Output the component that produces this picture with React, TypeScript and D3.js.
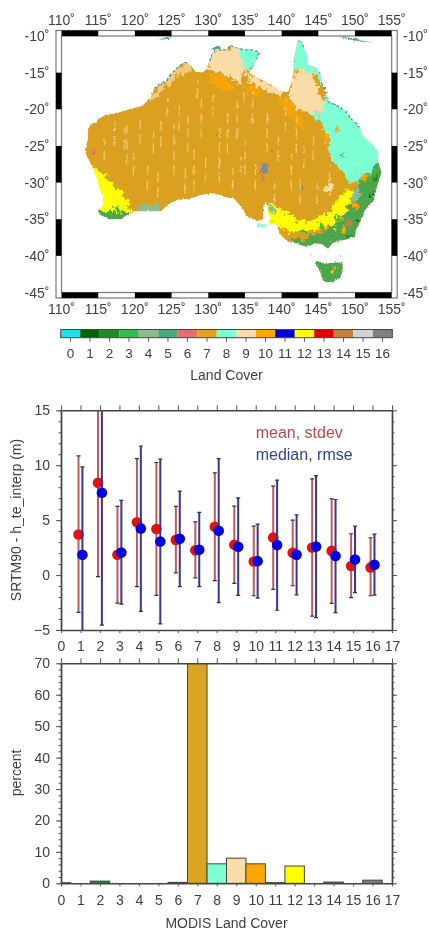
import * as d3 from 'd3';
import { useEffect, useRef } from 'react';

type Pt = [number, number];

const landColors = ['#20e0ee', '#006400', '#228b22', '#3cb84a', '#8fbc8f', '#4aa97c', '#e07070', '#daa520',
  '#7fffd4', '#fadca8', '#ffa500', '#0000cd', '#ffff00', '#e00000', '#c08040', '#d3d3d3', '#808080'];
const landClasses = d3.range(17);

// lon/lat
const mainland: Pt[] = [[113.2,-26.1],[113.3,-25.0],[113.6,-24.0],[113.5,-23.2],[113.8,-22.3],[114.3,-21.8],[114.7,-21.9],[115.0,-21.3],[116.0,-20.7],[117.0,-20.6],[118.5,-20.2],[119.5,-19.9],[120.8,-19.6],[121.6,-19.0],[122.2,-18.2],[122.6,-17.2],[123.4,-16.6],[124.2,-16.2],[124.8,-15.4],[125.5,-14.6],[126.3,-13.9],[127.1,-13.6],[127.8,-14.2],[128.3,-14.9],[129.3,-14.9],[129.7,-14.5],[130.2,-13.4],[130.6,-12.3],[131.3,-11.9],[132.6,-11.9],[132.9,-11.3],[133.8,-11.6],[135,-11.9],[136.0,-11.9],[136.9,-12.2],[136.6,-13.2],[136.0,-14.4],[135.6,-15.0],[136.5,-15.6],[137.6,-16.1],[139.0,-16.9],[139.8,-17.5],[140.8,-17.6],[141.3,-16.5],[141.6,-15.0],[141.6,-13.5],[141.8,-12.6],[142.1,-11.0],[142.5,-10.5],[143.0,-11.5],[143.5,-12.8],[143.6,-14.0],[144.5,-14.2],[145.3,-15.0],[145.4,-16.3],[146.0,-17.5],[146.3,-18.9],[147.5,-19.5],[148.8,-20.3],[149.5,-21.3],[150.6,-22.5],[150.9,-23.5],[152.5,-24.9],[153.2,-25.9],[153.1,-27],[153.6,-28.6],[153.0,-30.5],[152.5,-32.5],[151.3,-33.8],[150.8,-35],[150.1,-36.5],[150.0,-37.4],[148.5,-37.8],[147.0,-38.2],[146.3,-39.0],[145.5,-38.4],[144.6,-38.2],[143.5,-38.8],[142,-38.3],[140.7,-38.0],[139.7,-36.9],[139.3,-35.7],[138.2,-35.6],[138.5,-34.8],[138.1,-33.5],[137.8,-32.6],[137.5,-33.5],[137.5,-35],[136.9,-35.2],[135.7,-34.9],[135.2,-34.5],[134.2,-33],[133.5,-32.2],[132.3,-32.0],[131,-31.5],[129,-31.7],[127.5,-32.2],[126,-32.3],[124.5,-33],[123.6,-33.9],[122,-33.9],[120,-33.9],[119,-34.4],[118,-35],[116.5,-35],[115.1,-34.3],[115,-33.6],[115.7,-33.2],[115.7,-32],[115.2,-31],[114.9,-29.5],[114.2,-28],[113.6,-26.7]];
const tasmania: Pt[] = [[144.7,-40.7],[146,-41.1],[147,-40.9],[148.3,-40.9],[148.3,-42],[148,-43],[147,-43.5],[146,-43.6],[145.5,-43],[145.2,-42],[144.7,-41.2]];
const islands: { c: number; pts: Pt[] }[] = [
  { c: 5, pts: [[130.5,-11.7],[131.5,-11.3],[131.6,-11.7],[130.7,-11.9]] },
  { c: 5, pts: [[123.2,-10.5],[124.5,-10.1],[125.2,-10.0],[124.5,-10.4]] },
  { c: 5, pts: [[147.8,-10.1],[150,-10.3],[150.8,-10.6],[152.6,-10.9],[151,-10.8],[149,-10.4]] },
  { c: 8, pts: [[136.6,-35.7],[138,-35.7],[137.6,-36.1],[136.7,-36]] },
  { c: 15, pts: [[143.8,-39.7],[144.1,-39.7],[144,-40.1]] },
  { c: 8, pts: [[147.8,-39.8],[148.2,-40],[148,-40.4]] },
];
const savannaAqua: Pt[] = [[141.5,-10],[143.5,-10],[144.5,-14],[146.5,-17],[149,-20],[151,-22.5],[154,-25.5],[154,-28],[152,-29.5],[150.5,-30],[149.2,-30],[148,-28],[146.7,-27],[146.3,-24],[145.5,-22],[143.5,-20.3],[145.5,-20.3],[146,-18],[145,-15.5],[142.6,-14.5],[141.5,-15]];
const arnhemAqua: Pt[] = [[133,-11],[137,-11],[137,-14.5],[134.8,-14.5],[134,-13]];
const savannaTan: Pt[][] = [
  [[130.2,-12.2],[134,-11.5],[134.6,-13.2],[135,-15],[134.4,-16.5],[133,-15.6],[131.5,-15],[130,-14.5]],
  [[135,-15],[140,-17.2],[140,-18],[137.5,-17.3],[135.3,-16]],
  [[141,-17.8],[141.5,-16],[142.5,-14.5],[144,-15],[145,-17],[145.5,-18.5],[146,-20],[144,-20.6],[142,-20],[141,-18.6]],
];
const kimberleyTan: Pt[][] = [
  [[121.5,-18.9],[123.5,-16.7],[125,-15],[127.5,-13.3],[128,-14.6],[126,-15.3],[124.5,-16.8],[122.8,-18.6]],
];
const grassOrange: Pt[][] = [
  [[130.4,-15.2],[131.7,-15.4],[132.8,-16],[132.4,-17.6],[131.2,-17],[130.2,-16.2]],
  [[135.6,-16.5],[137,-17.2],[136.8,-18.6],[135.4,-17.8]],
  [[139.5,-18.3],[141.5,-19],[142.6,-21],[143,-23],[141.6,-21.5],[140,-19.8]],
  [[145.7,-23],[146.6,-22.8],[147.2,-24],[146,-24.5]],
];
const shrubYellow: Pt[][] = [
  [[113.8,-27.4],[116,-29.2],[118,-31],[119.3,-33],[119.5,-35],[115,-35],[114.5,-30]],
  [[137.6,-33.2],[139,-32.8],[140,-33.8],[142,-34.8],[143.5,-35.2],[145.5,-34.6],[147,-33.4],[148,-31.8],[149,-30.8],[149.8,-31.5],[148.5,-34.5],[146.5,-35.8],[144,-36.6],[141,-36.8],[139.8,-36],[139,-35.7],[138,-35]],
];
const forestGreen: Pt[][] = [
  [[114.8,-33.5],[116,-34],[118,-34.1],[119.2,-34],[119.2,-35.2],[115,-35.2]],
  [[150.5,-29.6],[152,-28.8],[154,-25.5],[154,-33],[151,-38],[146,-39.5],[142.8,-39.2],[143.2,-37.5],[146,-36.5],[148.2,-35],[149.8,-32.4]],
  [[140.5,-38.4],[142.5,-37.5],[143.4,-39],[141,-38.6]],
  [[144,-40],[149,-40],[149,-44],[144,-44]],
];
const paleGreen: Pt[][] = [
  [[120.3,-33.1],[123.5,-33],[123.4,-34],[120.5,-34.2]],
  [[138.1,-33],[139,-33.3],[138.9,-34.2],[138.3,-34.4]],
  [[149.4,-31.5],[150.5,-30.5],[150.6,-32],[149.7,-33]],
];
const specks: { c: number; lon: number; lat: number; r: number }[] = [
  { c: 14, lon: 149.2, lat: -35.5, r: 0.45 }, { c: 10, lon: 150.2, lat: -33.2, r: 0.4 }, { c: 10, lon: 148.5, lat: -36.4, r: 0.35 },
  { c: 13, lon: 146.9, lat: -37.3, r: 0.22 }, { c: 15, lon: 146.7, lat: -37.7, r: 0.2 }, { c: 12, lon: 147.3, lat: -36.4, r: 0.3 },
  { c: 12, lon: 146.9, lat: -42, r: 0.35 }, { c: 10, lon: 147.2, lat: -41.8, r: 0.3 }, { c: 1, lon: 150.4, lat: -35.2, r: 0.25 },
  { c: 1, lon: 152.1, lat: -31.6, r: 0.2 }, { c: 2, lon: 152.8, lat: -29.3, r: 0.3 }, { c: 2, lon: 149.2, lat: -37.4, r: 0.3 },
  { c: 10, lon: 151.3, lat: -29.3, r: 0.45 }, { c: 9, lon: 146.3, lat: -31, r: 0.55 }, { c: 9, lon: 146.7, lat: -30.5, r: 0.35 },
  { c: 16, lon: 137.4, lat: -29.3, r: 0.15 }, { c: 6, lon: 114.4, lat: -25.8, r: 0.35 }, { c: 16, lon: 131.3, lat: -23.4, r: 0.18 },
  { c: 16, lon: 138.8, lat: -25.8, r: 0.2 }, { c: 16, lon: 142.6, lat: -30.5, r: 0.15 }, { c: 10, lon: 132.8, lat: -16.8, r: 0.4 },
  { c: 5, lon: 116.7, lat: -34.4, r: 0.25 }, { c: 10, lon: 147.6, lat: -22.7, r: 0.35 }, { c: 3, lon: 148.2, lat: -26.4, r: 0.25 },
  { c: 3, lon: 145.5, lat: -36, r: 0.3 }, { c: 3, lon: 147.6, lat: -34.8, r: 0.3 }, { c: 3, lon: 143, lat: -36.6, r: 0.25 },
  { c: 10, lon: 142, lat: -35.6, r: 0.3 }, { c: 10, lon: 145, lat: -35.4, r: 0.3 }, { c: 3, lon: 117.5, lat: -33.5, r: 0.3 },
];
const lakeEyre: Pt[] = [[137.2,-27.2],[138,-27.2],[138.2,-28.5],[137.8,-29],[137.2,-28.7],[136.9,-28]];
const tealFringe: Pt[][] = [
  [[130.2,-13.4],[130.6,-12.3],[131.3,-11.9],[132.6,-11.9],[132.9,-11.3],[133.8,-11.6],[135,-11.9],[136,-11.9],[136.9,-12.2],[136.6,-13.2]],
  [[122.6,-17.2],[123.4,-16.6],[124.2,-16.2],[124.8,-15.4],[125.5,-14.6],[126.3,-13.9],[127.1,-13.6]],
  [[142.1,-11],[142.5,-10.5],[143,-11.5]],
  [[145.4,-16.3],[146,-17.5],[146.3,-18.9],[147.5,-19.5],[148.8,-20.3],[149.5,-21.3],[150.6,-22.5]],
];
// satellite track gaps: lon, top lat, bottom lat
const trackGaps: [number, number, number][] = [[120.7,-24.8,-20.5],[118.9,-27.5,-22],[118.6,-25.5,-22.5],[122.5,-26,-23],[123.5,-25,-21],[125.3,-29,-22],[126,-23,-19],[127.2,-26,-21],[128,-31,-25],[129,-24,-18.5],[129.6,-30,-26],[130.6,-21,-18],[131.5,-30,-22],[132.6,-26,-20],[133.3,-31,-28],[133.9,-24,-19],[135,-29,-24],[136,-22,-17.5],[136.4,-31,-27],[138,-26,-20],[139,-33,-30],[139.5,-27,-23],[140.5,-23,-18.5],[141.3,-31,-26],[142,-26,-21],[143,-28,-25],[144.3,-27,-23],[117.2,-25,-21.5],[115.8,-27,-24],[121.7,-31,-27],[123.1,-32,-28],[124.4,-21,-18.5],[126.8,-31.5,-28],[134.4,-29,-26.5],[142.5,-33,-29],[144.8,-33,-30],[146.5,-30,-27.5],[119.8,-29,-26],[128.5,-18.5,-16],[134.8,-19,-16.8]];

const lonTicks = d3.range(110, 156, 5);
const latTicks = d3.range(-10, -46, -5);

const errClasses = d3.range(1, 17);
const meanValues = [3.7, 8.4, 1.85, 4.8, 4.2, 3.2, 2.25, 4.4, 2.76, 1.24, 3.42, 2.03, 2.5, 2.2, 0.82, 0.7];
const stdevTop = [10.85, 17, 6.25, 10.6, 10.25, 6.25, 4.85, 9.3, 6.27, 4.45, 8.1, 5, 8.76, 6.94, 3.76, 3.4];
const stdevBottom = [-3.4, -0.15, -2.55, -1.05, -1.85, 0.2, -0.25, -0.5, -0.76, -1.88, -1.3, -0.97, -3.73, -2.58, -2.06, -1.88];
const medianValues = [1.85, 7.5, 2.05, 4.25, 3.05, 3.3, 2.3, 4.03, 2.58, 1.27, 2.73, 1.85, 2.6, 1.73, 1.42, 0.94];
const rmseTop = [9.85, 18, 6.8, 11.75, 10.55, 7.65, 5.7, 10.6, 7.03, 4.64, 8.64, 5.48, 9.06, 6.88, 4.45, 3.73];
const rmseBottom = [-6, -4.55, -2.65, -3.3, -4.45, -1.05, -1.05, -2.5, -1.85, -2.1, -3.2, -1.8, -3.88, -3.42, -1.6, -1.82];

const percentValues = [0.2, 0, 0.7, 0, 0, 0, 0.3, 75, 6.2, 8, 6.2, 0.2, 5.5, 0, 0.4, 0, 1];

const font = '"Liberation Sans", Arial, sans-serif';
const ink = '#3f3f3f';
const mapGold = '#dca021';

const App = () => {
  const ref = useRef<SVGSVGElement>(null);

  useEffect(() => {
    const svg = d3.select(ref.current);
    svg.selectAll('*').remove();

    const defs = svg.append('defs');
    defs.append('filter').attr('id', 'soft').attr('color-interpolation-filters', 'sRGB')
      .append('feGaussianBlur').attr('stdDeviation', 0.6);
    // rough edges for the land classes
    const rough = (id: string, freq: number, scale: number, seed: number) => {
      const f = defs.append('filter').attr('id', id).attr('color-interpolation-filters', 'sRGB')
        .attr('x', '-5%').attr('y', '-5%').attr('width', '110%').attr('height', '110%');
      f.append('feTurbulence').attr('type', 'fractalNoise').attr('baseFrequency', freq)
        .attr('numOctaves', 2).attr('seed', seed).attr('result', 'n');
      f.append('feDisplacementMap').attr('in', 'SourceGraphic').attr('in2', 'n')
        .attr('scale', scale).attr('xChannelSelector', 'R').attr('yChannelSelector', 'G');
    };
    rough('mottle', 0.22, 11, 3);
    rough('edge', 0.4, 3, 8);

    // map
    const lonScale = d3.scaleLinear().domain([110, 155]).range([61.5, 391.7]);
    const latScale = d3.scaleLinear().domain([-10, -45]).range([36, 292.5]);
    const project = d3.line<Pt>().x(d => lonScale(d[0])).y(d => latScale(d[1]));
    const closed = (pts: Pt[]) => project(pts) + 'Z';

    defs.append('clipPath').attr('id', 'land').selectAll('path')
      .data([mainland, tasmania]).enter().append('path').attr('d', closed);

    const map = svg.append('g').attr('filter', 'url(#soft)');
    map.append('g').attr('filter', 'url(#edge)').selectAll('path').data(islands).enter().append('path')
      .attr('d', d => closed(d.pts)).attr('fill', d => landColors[d.c]);

    const coast = map.append('g').attr('filter', 'url(#edge)');
    const clip = coast.append('g').attr('clip-path', 'url(#land)');
    clip.append('path').attr('d', closed(mainland) + closed(tasmania)).attr('fill', mapGold);

    // track gaps stay straight, the class patches get mottled on top of them
    const fill = clip.append('g').attr('filter', 'url(#mottle)');
    const region = (polys: Pt[][], color: string, opacity = 1) => fill.append('g').attr('opacity', opacity).selectAll('path')
      .data(polys).enter().append('path').attr('d', closed).attr('fill', color);

    region(kimberleyTan, landColors[9], 0.7);
    region(grassOrange, landColors[10], 0.8);
    region([savannaAqua], landColors[8]);
    region([arnhemAqua], landColors[8]);
    region(savannaTan, landColors[9]);
    region(shrubYellow, landColors[12]);
    region(forestGreen, '#4ca64c');
    region(paleGreen, landColors[4]);
    region([lakeEyre], '#7f8a9c');

    fill.append('g').selectAll('circle').data(specks).enter().append('circle')
      .attr('cx', d => lonScale(d.lon)).attr('cy', d => latScale(d.lat))
      .attr('r', d => d.r * 7.33).attr('fill', d => landColors[d.c]);

    clip.append('g').selectAll('line').data(trackGaps).enter().append('line')
      .attr('x1', d => lonScale(d[0])).attr('x2', d => lonScale(d[0]) + 0.5)
      .attr('y1', d => latScale(d[1])).attr('y2', d => latScale(d[2]))
      .attr('stroke', '#f2d68e').attr('stroke-width', 1.3).attr('opacity', 0.75).attr('stroke-dasharray', '10 5');

    map.append('g').attr('filter', 'url(#edge)').selectAll('path').data(tealFringe).enter().append('path')
      .attr('d', project).attr('fill', 'none').attr('stroke', '#2f7f78').attr('stroke-width', 1.2)
      .attr('stroke-dasharray', '3 2').attr('opacity', 0.8);

    // map frame
    const frame = svg.append('g');
    const pad = 5.5;
    frame.append('rect').attr('x', 61.5 - pad).attr('y', 36 - pad)
      .attr('width', 330.2 + 2 * pad).attr('height', 256.5 + 2 * pad)
      .attr('fill', 'none').attr('stroke', '#777').attr('stroke-width', 1.2);
    frame.append('rect').attr('x', 61.5).attr('y', 36).attr('width', 330.2).attr('height', 256.5)
      .attr('fill', 'none').attr('stroke', '#777').attr('stroke-width', 1.2);
    const blackLon = lonTicks.filter((d, i) => i % 2 === 0 && d < 155);
    const blackLat = latTicks.filter((d, i) => i % 2 === 1 && d > -45);
    [36 - pad, 292.5].forEach(y => {
      frame.append('g').selectAll('rect').data(blackLon).enter().append('rect')
        .attr('x', d => lonScale(d)).attr('y', y)
        .attr('width', d => lonScale(d + 5) - lonScale(d)).attr('height', pad).attr('fill', '#000');
    });
    [61.5 - pad, 391.7].forEach(x => {
      frame.append('g').selectAll('rect').data(blackLat).enter().append('rect')
        .attr('x', x).attr('y', d => latScale(d))
        .attr('width', pad).attr('height', d => latScale(d - 5) - latScale(d)).attr('fill', '#000');
    });

    const label = (sel: any) => sel.attr('font-family', font).attr('fill', ink);
    [25, 314].forEach(y => {
      label(svg.append('g').selectAll('text').data(lonTicks).enter().append('text')
        .attr('x', d => lonScale(d)).attr('y', y).attr('text-anchor', 'middle')
        .attr('font-size', 14).text(d => `${d}˚`));
    });
    label(svg.append('g').selectAll('text').data(latTicks).enter().append('text')
      .attr('x', 49.5).attr('y', d => latScale(d) + 5).attr('text-anchor', 'end')
      .attr('font-size', 14).text(d => `${d}˚`));
    label(svg.append('g').selectAll('text').data(latTicks).enter().append('text')
      .attr('x', 403).attr('y', d => latScale(d) + 5)
      .attr('font-size', 14).text(d => `${d}˚`));

    // colour bar
    const barScale = d3.scaleBand<number>().domain(landClasses).range([60.7, 392.3]);
    const bar = svg.append('g');
    bar.selectAll('rect').data(landClasses).enter().append('rect')
      .attr('x', d => barScale(d)!).attr('y', 329.5)
      .attr('width', barScale.bandwidth()).attr('height', 8.2).attr('fill', d => landColors[d]);
    bar.append('rect').attr('x', 60.7).attr('y', 329.5).attr('width', 331.6).attr('height', 8.2)
      .attr('fill', 'none').attr('stroke', '#444').attr('stroke-width', 1);
    const barAxis = d3.axisBottom(barScale).tickSize(4).tickSizeOuter(0).tickPadding(6.7);
    const barG = svg.append('g').attr('transform', 'translate(0,337.7)').call(barAxis);
    barG.select('.domain').remove();
    barG.selectAll('line').attr('stroke', '#555');
    barG.selectAll('text').attr('font-family', font).attr('font-size', 13.5).attr('fill', ink);
    label(svg.append('text').attr('x', 226.5).attr('y', 380).attr('text-anchor', 'middle')
      .attr('font-size', 14).text('Land Cover'));

    // shared x axis for the two lower panels
    const x = d3.scaleLinear().domain([0, 17]).range([61, 392]);
    const xTicks = d3.range(0, 18);

    const panel = (
      yScale: d3.ScaleLinear<number, number>, majors: number[], minors: number[], top: number, bottom: number,
    ) => {
      const g = svg.append('g');
      const styleAxis = (a: any) => {
        a.select('.domain').attr('stroke', '#444').attr('stroke-width', 1.4);
        a.selectAll('line').attr('stroke', '#555').attr('stroke-width', 1);
        a.selectAll('text').attr('font-family', font).attr('font-size', 14).attr('fill', ink);
      };
      styleAxis(g.append('g').attr('transform', `translate(61,0)`)
        .call(d3.axisLeft(yScale).tickValues(minors).tickSize(2.5).tickSizeOuter(0).tickFormat(() => '')));
      styleAxis(g.append('g').attr('transform', `translate(392,0)`)
        .call(d3.axisRight(yScale).tickValues(minors).tickSize(2.5).tickSizeOuter(0).tickFormat(() => '')));
      styleAxis(g.append('g').attr('transform', `translate(61,0)`)
        .call(d3.axisLeft(yScale).tickValues(majors).tickSize(5).tickSizeOuter(0).tickPadding(6).tickFormat(d3.format('d') as any)));
      styleAxis(g.append('g').attr('transform', `translate(392,0)`)
        .call(d3.axisRight(yScale).tickValues(majors).tickSize(5).tickSizeOuter(0).tickFormat(() => '')));
      styleAxis(g.append('g').attr('transform', `translate(0,${top})`)
        .call(d3.axisTop(x).tickValues(xTicks).tickSize(5).tickSizeOuter(0).tickFormat(() => '')));
      styleAxis(g.append('g').attr('transform', `translate(0,${bottom})`)
        .call(d3.axisBottom(x).tickValues(xTicks).tickSize(3).tickSizeOuter(0).tickPadding(8.5).tickFormat(d3.format('d') as any)));
    };

    // error bar panel
    const yErr = d3.scaleLinear().domain([-5, 15]).range([630, 410.3]);
    defs.append('clipPath').attr('id', 'errClip').append('rect')
      .attr('x', 61).attr('y', 410.3).attr('width', 331).attr('height', 219.7);

    const errG = svg.append('g').attr('clip-path', 'url(#errClip)');
    const series = (offset: number, vals: number[], tops: number[], bottoms: number[], barColor: string, dotColor: string) => {
      const s = errG.append('g');
      const px = (i: number) => x(errClasses[i] + offset);
      errClasses.forEach((_, i) => {
        s.append('line').attr('x1', px(i)).attr('x2', px(i)).attr('y1', yErr(tops[i])).attr('y2', yErr(bottoms[i]))
          .attr('stroke', barColor).attr('stroke-width', 2);
        [tops[i], bottoms[i]].forEach(v => {
          s.append('line').attr('x1', px(i) - 2).attr('x2', px(i) + 2).attr('y1', yErr(v)).attr('y2', yErr(v))
            .attr('stroke', '#333').attr('stroke-width', 1.2);
        });
      });
      s.selectAll('circle').data(vals).enter().append('circle')
        .attr('cx', (_, i) => px(i)).attr('cy', d => yErr(d)).attr('r', 5.3).attr('fill', dotColor);
    };
    series(-0.1, meanValues, stdevTop, stdevBottom, '#c25a5a', '#e01212');
    series(0.1, medianValues, rmseTop, rmseBottom, '#35359a', '#0000e6');
    panel(yErr, d3.range(-5, 16, 5), d3.range(-5, 16, 1), 410.3, 630);

    svg.append('text').attr('x', 255.7).attr('y', 438).attr('font-family', font).attr('font-size', 16)
      .attr('fill', '#b84a4a').text('mean, stdev');
    svg.append('text').attr('x', 255.7).attr('y', 460).attr('font-family', font).attr('font-size', 16)
      .attr('fill', '#30409c').text('median, rmse');
    label(svg.append('text').attr('transform', 'translate(21,520) rotate(-90)').attr('text-anchor', 'middle')
      .attr('font-size', 14).text('SRTM90 - h_te_interp (m)'));

    // histogram panel
    const yPct = d3.scaleLinear().domain([0, 70]).range([883.3, 663.3]);
    defs.append('clipPath').attr('id', 'pctClip').append('rect')
      .attr('x', 61).attr('y', 663.3).attr('width', 331).attr('height', 220);
    svg.append('g').attr('clip-path', 'url(#pctClip)').selectAll('rect').data(percentValues).enter().append('rect')
      .attr('x', (_, i) => x(i - 0.5)).attr('width', x(1) - x(0))
      .attr('y', d => yPct(d)).attr('height', d => yPct(0) - yPct(d))
      .attr('fill', (_, i) => landColors[i]).attr('stroke', '#444').attr('stroke-width', 1);
    panel(yPct, d3.range(0, 71, 10), d3.range(0, 71, 2), 663.3, 883.3);

    label(svg.append('text').attr('transform', 'translate(21,773) rotate(-90)').attr('text-anchor', 'middle')
      .attr('font-size', 14).text('percent'));
    label(svg.append('text').attr('x', 226.5).attr('y', 928).attr('text-anchor', 'middle')
      .attr('font-size', 14).text('MODIS Land Cover'));
  }, []);

  return (
    <svg ref={ref} width={429} height={931}
      style={{ position: 'absolute', left: 0, top: 0, background: '#fff', filter: 'blur(0.4px)' }} />
  );
};

export default App;
